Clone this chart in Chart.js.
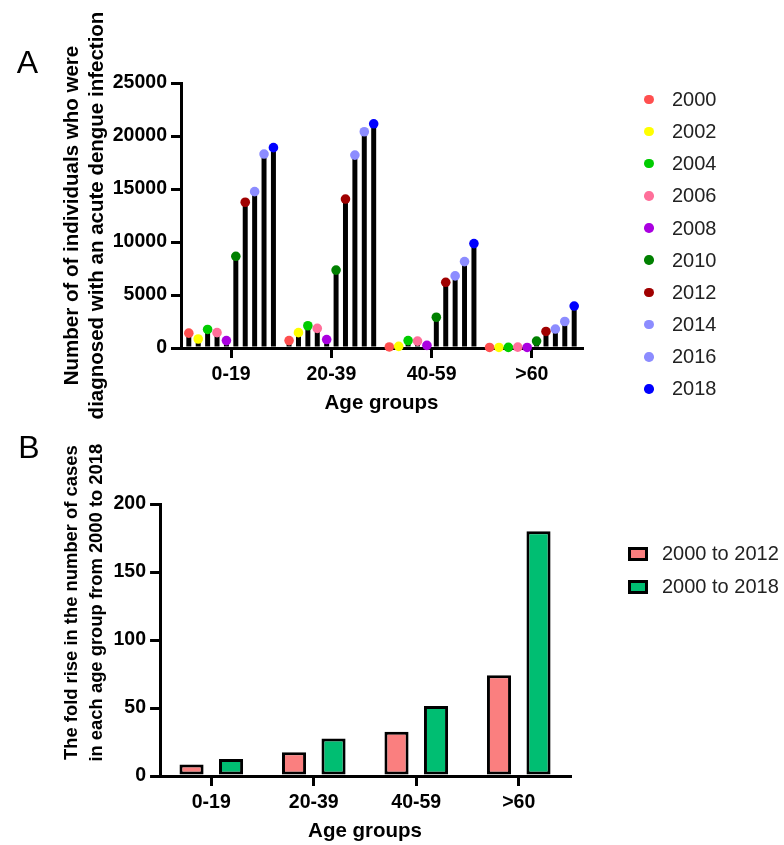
<!DOCTYPE html>
<html>
<head>
<meta charset="utf-8">
<script src="https://cdn.jsdelivr.net/npm/chart.js@4"></script>
<style>
  body { margin: 0; background: #fff; font-family: Arial, "Liberation Sans", sans-serif; }
  #page { position: relative; width: 784px; height: 845px; overflow: hidden; }
  canvas { position: absolute; left: 0; }
  #chartA { top: 0; }
  #chartB { top: 362px; }
  .legend { position: absolute; color: #222; font-size: 20px; }
  .legend .row { display: flex; align-items: center; white-space: nowrap; }
  #legendA { left: 640px; top: 83.2px; }
  #legendA .row { height: 32.2px; }
  #legendA .dot { width: 9.5px; height: 9.5px; border-radius: 50%; margin-left: 4.2px; margin-right: 18.3px; }
  #legendB { left: 628px; top: 537.6px; }
  #legendB .row { height: 32.7px; }
  #legendB .swatch { width: 20px; height: 14px; box-sizing: border-box; border: 3px solid #000; margin-right: 14px; }
</style>
</head>
<body>
<div id="page">
  <canvas id="chartA" width="784" height="420"></canvas>
  <canvas id="chartB" width="784" height="483"></canvas>
  <div id="legendA" class="legend"></div>
  <div id="legendB" class="legend"></div>
</div>
<script>
// ---- data ----
const ageGroups = ["0-19", "20-39", "40-59", ">60"];
const years = ["2000", "2002", "2004", "2006", "2008", "2010", "2012", "2014", "2016", "2018"];
const dotColors = ["#ff4f4f", "#ffff00", "#00cc00", "#ff6f9a", "#aa00e0", "#008000", "#a00000", "#8c8cff", "#8c8cff", "#0000ff"];

// number of diagnosed cases per year, one list per age group
const cases0to19 = [1400, 850, 1750, 1450, 700, 8650, 13750, 14750, 18300, 18900];
const cases20to39 = [700, 1450, 2100, 1850, 800, 7350, 14050, 18200, 20400, 21150];
const cases40to59 = [100, 150, 700, 650, 250, 2900, 6200, 6800, 8150, 9850];
const cases60plus = [50, 50, 60, 80, 50, 650, 1560, 1790, 2500, 3960];
const yTicksA = [0, 5000, 10000, 15000, 20000, 25000];

// fold rise panel
const foldLabels = ["2000 to 2012", "2000 to 2018"];
const foldColors = ["#fa7f7f", "#00be72"];
const fold2000to2012 = [8.5, 17.5, 32.5, 74];
const fold2000to2018 = [12.5, 27.5, 51.5, 180];
const yTicksB = [0, 50, 100, 150, 200];

Chart.defaults.font.family = "Arial, 'Liberation Sans', sans-serif";
Chart.defaults.color = "#000";

const boldTick = { size: 19.5, weight: "bold" };

function axisGrid() {
  return { drawOnChartArea: false, offset: false, tickLength: 10, lineWidth: 3, color: "#000" };
}

// plain numbers on the axis, no thousands separator
const plainTick = (value) => String(value);

// dots on top of each black bar, drawn where the library placed the bar
const topDots = {
  id: "topDots",
  afterDatasetsDraw(chart) {
    const ctx = chart.ctx;
    chart.data.datasets.forEach((ds, i) => {
      chart.getDatasetMeta(i).data.forEach((bar) => {
        ctx.beginPath();
        ctx.arc(bar.x, bar.y, 4.8, 0, Math.PI * 2);
        ctx.fillStyle = dotColors[i];
        ctx.fill();
      });
    });
  },
};

// panel A
const byGroup = [cases0to19, cases20to39, cases40to59, cases60plus];
const yearDatasets = years.map((year, i) => ({
  label: year,
  data: byGroup.map((group) => group[i]),
  backgroundColor: "#000",
  borderWidth: 0,
  barPercentage: 0.53,
  categoryPercentage: 0.938,
}));

new Chart(document.getElementById("chartA"), {
  type: "bar",
  data: { labels: ageGroups, datasets: yearDatasets },
  plugins: [topDots],
  options: {
    responsive: false,
    animation: false,
    layout: { padding: { top: 0, left: 16.7, right: 202, bottom: 4.7 } },
    plugins: {
      legend: { display: false },
      tooltip: { enabled: false },
      title: {
        display: true,
        text: "A",
        align: "start",
        font: { size: 32, weight: "normal" },
        padding: { top: 44.6, bottom: 0 },
      },
    },
    scales: {
      x: {
        offset: true,
        grid: axisGrid(),
        border: { width: 3, color: "#000" },
        ticks: { font: boldTick, padding: 5 },
        title: { display: true, text: "Age groups", font: { size: 20.5, weight: "bold" }, padding: { top: 0, bottom: 0 } },
        afterFit: (scale) => { scale.height = 67.3; },
      },
      y: {
        min: yTicksA[0],
        max: yTicksA[yTicksA.length - 1],
        grid: axisGrid(),
        border: { width: 3, color: "#000" },
        ticks: { stepSize: yTicksA[1] - yTicksA[0], font: boldTick, padding: 4, callback: plainTick },
        title: {
          display: true,
          text: ["Number of of individuals who were", "diagnosed with an acute dengue infection"],
          font: { size: 20.5, weight: "bold", lineHeight: 1.22 },
          padding: { top: 42.8, bottom: 0 },
        },
        afterFit: (scale) => { scale.width = 164.3; },
      },
    },
  },
});

// panel B
new Chart(document.getElementById("chartB"), {
  type: "bar",
  data: {
    labels: ageGroups,
    datasets: [
      { label: foldLabels[0], data: fold2000to2012, backgroundColor: foldColors[0] },
      { label: foldLabels[1], data: fold2000to2018, backgroundColor: foldColors[1] },
    ],
  },
  options: {
    responsive: false,
    animation: false,
    layout: { padding: { top: 0, left: 18.3, right: 214, bottom: 1.7 } },
    datasets: {
      bar: {
        borderColor: "#000",
        borderWidth: 3,
        borderSkipped: false,
        barPercentage: 0.61,
        categoryPercentage: 0.771,
      },
    },
    plugins: {
      legend: { display: false },
      tooltip: { enabled: false },
      subtitle: {
        display: true,
        text: "B",
        align: "start",
        color: "#000",
        font: { size: 32, weight: "normal" },
        padding: { top: 68.1, bottom: 35.5 },
      },
      title: {
        display: true,
        position: "left",
        text: ["The fold rise in the number of cases", "in each age group from 2000 to 2018"],
        font: { size: 18.4, weight: "bold", lineHeight: 1.36 },
        padding: { top: 40.9, bottom: 0 },
      },
    },
    scales: {
      x: {
        offset: true,
        grid: axisGrid(),
        border: { width: 3, color: "#000" },
        ticks: { font: boldTick, padding: 5 },
        title: { display: true, text: "Age groups", font: { size: 20.5, weight: "bold" }, padding: { top: 0, bottom: 0 } },
        afterFit: (scale) => { scale.height = 67.3; },
      },
      y: {
        min: yTicksB[0],
        max: yTicksB[yTicksB.length - 1],
        grid: axisGrid(),
        border: { width: 3, color: "#000" },
        ticks: { stepSize: yTicksB[1] - yTicksB[0], font: boldTick, padding: 4, callback: plainTick },
        afterFit: (scale) => { scale.width = 50.8; },
      },
    },
  },
});

// legends
const legendA = document.getElementById("legendA");
years.forEach((year, i) => {
  const row = document.createElement("div");
  row.classList.add("row");
  const dot = document.createElement("span");
  dot.classList.add("dot");
  dot.style.background = dotColors[i];
  row.appendChild(dot);
  row.appendChild(document.createTextNode(year));
  legendA.appendChild(row);
});

const legendB = document.getElementById("legendB");
foldLabels.forEach((label, i) => {
  const row = document.createElement("div");
  row.classList.add("row");
  const swatch = document.createElement("span");
  swatch.classList.add("swatch");
  swatch.style.background = foldColors[i];
  row.appendChild(swatch);
  row.appendChild(document.createTextNode(label));
  legendB.appendChild(row);
});
</script>
</body>
</html>
